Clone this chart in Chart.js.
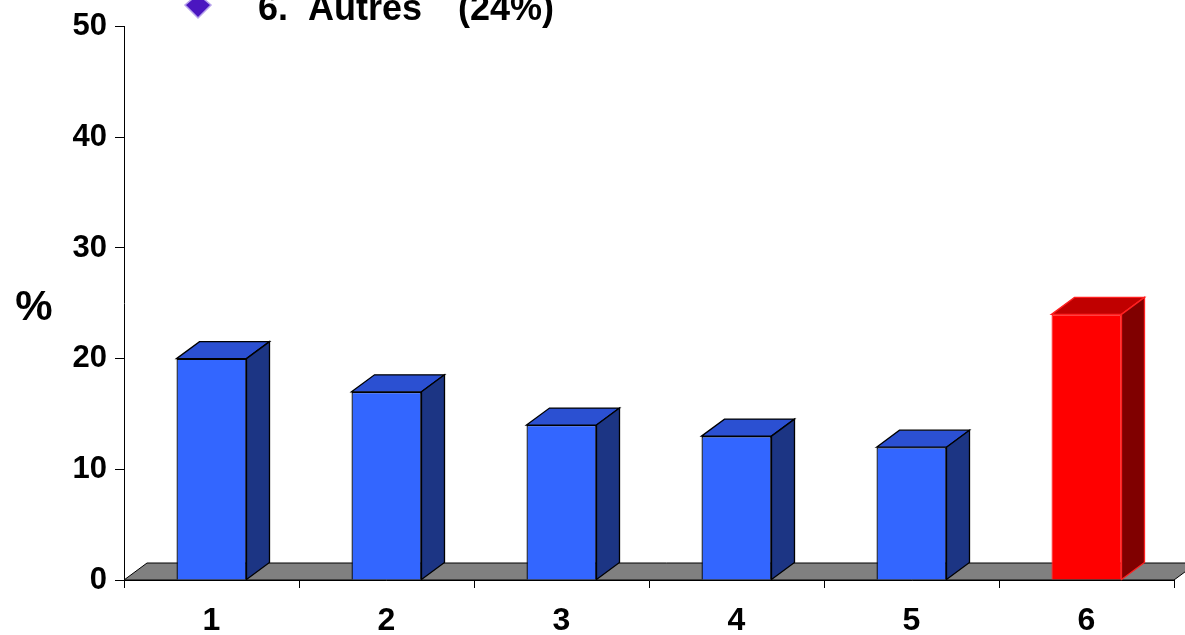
<!DOCTYPE html>
<html>
<head>
<meta charset="utf-8">
<script src="https://cdn.jsdelivr.net/npm/chart.js@4/dist/chart.umd.min.js"></script>
<style>
  html, body { margin: 0; padding: 0; background: #fff; }
  #wrap { width: 1185px; height: 635px; }
</style>
</head>
<body>
<div id="wrap"><canvas id="barChart"></canvas></div>
<script>
// Données du graphique
const categories = ['1', '2', '3', '4', '5', '6'];
const values = [20, 17, 14, 13, 12, 24];
const yTicks = [0, 10, 20, 30, 40, 50];
const legendText = ['6.  Autres', '(24%)'];

// Couleurs des faces (avant, dessus, côté)
const frontColors = ['#3366ff', '#3366ff', '#3366ff', '#3366ff', '#3366ff', '#ff0000'];
const topColors = ['#2b50d2', '#2b50d2', '#2b50d2', '#2b50d2', '#2b50d2', '#c00000'];
const sideColors = ['#1c3584', '#1c3584', '#1c3584', '#1c3584', '#1c3584', '#800000'];
const edgeColors = ['#000000', '#000000', '#000000', '#000000', '#000000', '#ff2020'];

// Profondeur de l'effet 3D
const DX = 23, DY = 17;

const font = '"Liberation Sans", Arial, sans-serif';

// Plugin: sol gris, faces 3D, textes
const pseudo3d = {
    id: 'pseudo3d',
    beforeDatasetsDraw(chart) {
        const { ctx, chartArea } = chart;
        const b = chartArea.bottom;
        ctx.save();
        ctx.beginPath();
        ctx.moveTo(chartArea.left, b);
        ctx.lineTo(chartArea.left + DX, b - DY);
        ctx.lineTo(chartArea.right + DX, b - DY);
        ctx.lineTo(chartArea.right, b);
        ctx.closePath();
        ctx.fillStyle = '#808080';
        ctx.fill();
        ctx.strokeStyle = '#000';
        ctx.lineWidth = 1;
        ctx.stroke();
        ctx.restore();
    },
    afterDatasetsDraw(chart) {
        const { ctx } = chart;
        const meta = chart.getDatasetMeta(0);
        ctx.save();
        ctx.lineWidth = 1.3;
        meta.data.forEach((bar, i) => {
            const left = bar.x - bar.width / 2;
            const right = bar.x + bar.width / 2;
            const top = bar.y;
            const base = bar.base;
            ctx.strokeStyle = edgeColors[i];
            // face du dessus
            ctx.beginPath();
            ctx.moveTo(left, top);
            ctx.lineTo(left + DX, top - DY);
            ctx.lineTo(right + DX, top - DY);
            ctx.lineTo(right, top);
            ctx.closePath();
            ctx.fillStyle = topColors[i];
            ctx.fill();
            ctx.stroke();
            // face de côté
            ctx.beginPath();
            ctx.moveTo(right, top);
            ctx.lineTo(right + DX, top - DY);
            ctx.lineTo(right + DX, base - DY);
            ctx.lineTo(right, base);
            ctx.closePath();
            ctx.fillStyle = sideColors[i];
            ctx.fill();
            ctx.stroke();
        });
        ctx.restore();
    },
    afterDraw(chart) {
        const { ctx } = chart;
        ctx.save();
        // "%" de l'axe vertical
        ctx.fillStyle = '#000';
        ctx.font = 'bold 42px ' + font;
        ctx.textAlign = 'center';
        ctx.textBaseline = 'alphabetic';
        ctx.fillText('%', 34, 320);
        // Ligne de légende coupée en haut
        ctx.font = 'bold 36px ' + font;
        ctx.textAlign = 'left';
        ctx.fillText(legendText[0], 258, 20);
        ctx.fillText(legendText[1], 458, 20);
        // losange violet
        ctx.beginPath();
        ctx.moveTo(198, -6);
        ctx.lineTo(211, 5);
        ctx.lineTo(198, 18);
        ctx.lineTo(185, 5);
        ctx.closePath();
        ctx.fillStyle = '#4b16c0';
        ctx.fill();
        ctx.strokeStyle = '#b8a4ec';
        ctx.lineWidth = 1.5;
        ctx.stroke();
        ctx.restore();
    }
};

const barCanvas = document.getElementById('barChart').getContext('2d');

const barChart = new Chart(barCanvas, {
    type: 'bar',
    data: {
        labels: categories,
        datasets: [{
            data: values,
            backgroundColor: frontColors,
            borderColor: edgeColors,
            borderWidth: 1.3,
            categoryPercentage: 0.8,
            barPercentage: 0.5
        }]
    },
    options: {
        responsive: true,
        maintainAspectRatio: false,
        animation: false,
        layout: { padding: { top: 24, right: 11, left: 0, bottom: 0 } },
        plugins: {
            legend: { display: false },
            tooltip: { enabled: false }
        },
        scales: {
            x: {
                offset: true,
                grid: {
                    offset: true,
                    drawOnChartArea: false,
                    drawTicks: true,
                    tickLength: 8,
                    color: '#000'
                },
                border: { display: true, color: '#000', width: 1 },
                ticks: {
                    color: '#000',
                    font: { family: font, size: 32, weight: 'bold' },
                    padding: 14
                },
                afterFit(scale) { scale.height = 55; }
            },
            y: {
                min: 0,
                max: 50,
                afterBuildTicks(scale) { scale.ticks = yTicks.map(v => ({ value: v })); },
                grid: {
                    drawOnChartArea: false,
                    drawTicks: true,
                    tickLength: 9,
                    color: '#000'
                },
                border: { display: true, color: '#000', width: 1 },
                ticks: {
                    color: '#000',
                    font: { family: font, size: 31, weight: 'bold' },
                    padding: 8
                },
                afterFit(scale) { scale.width = 124; }
            }
        }
    },
    plugins: [pseudo3d]
});
</script>
</body>
</html>
